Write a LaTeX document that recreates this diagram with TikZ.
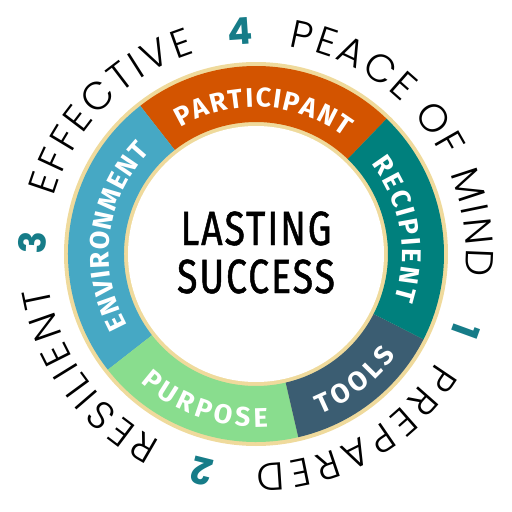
\documentclass[tikz,border=0pt]{standalone}
\usepackage{fontspec}
\usepackage{xcolor}
\usetikzlibrary{decorations.text}
\newfontfamily\outerfont{Poppins Light}
\newfontfamily\digitfont{Poppins Bold}
\newfontfamily\ringfont{Fira Sans Bold}
\newfontfamily\centerfont{Fira Sans}[FakeStretch=0.78, FakeBold=1, LetterSpace=4]
\definecolor{partorange}{HTML}{D35400}
\definecolor{envblue}{HTML}{46A8C4}
\definecolor{purpgreen}{HTML}{89DD8E}
\definecolor{toolslate}{HTML}{3B5D72}
\definecolor{recteal}{HTML}{00807D}
\definecolor{ringcream}{HTML}{EFDA9C}
\definecolor{digitteal}{HTML}{167C88}
\newcommand{\ringtxt}{\ringfont\fontsize{27pt}{27pt}\selectfont}
\newcommand{\outertxt}{\outerfont\fontsize{39pt}{39pt}\selectfont}
\tikzset{
  ringlabel/.style={
    decorate,
    decoration={text along path, text align={fit to path},
      text color=white, text={|\ringtxt|#1}}},
  outerword/.style={
    decorate,
    decoration={text along path, text align={fit to path},
      text color=black, text={|\outertxt|#1}}},
  digit/.style={anchor=base, inner sep=0pt, text=digitteal,
    font=\digitfont\fontsize{37pt}{37pt}\selectfont},
  centertext/.style={anchor=base, inner sep=0pt,
    font=\centerfont\fontsize{48pt}{48pt}\selectfont}
}

\begin{document}
\begin{tikzpicture}
    \useasboundingbox (-256pt,-258pt) rectangle (256pt,254pt);
    \fill[ringcream] (0,0) circle (192pt);
    \foreach \a/\b/\c in {46/128/partorange, 128/218/envblue,
      218/283/purpgreen, 283/333/toolslate, 333/406/recteal}
      \fill[\c] (\a:188pt) arc[start angle=\a, end angle=\b, radius=188pt]
        -- (\b:132pt) arc[start angle=\b, end angle=\a, radius=132pt] -- cycle;
    \fill[white] (0,0) circle (128pt);
    % labels in the ring
    \path[ringlabel=PARTICIPANT] (121:147pt) arc[start angle=121, end angle=53, radius=147pt];
    \path[ringlabel=RECIPIENT] (38:146pt) arc[start angle=38, end angle=-18, radius=146pt];
    \path[ringlabel=ENVIRONMENT] (209:147pt) arc[start angle=209, end angle=136, radius=147pt];
    \path[ringlabel=PURPOSE] (228:173pt) arc[start angle=228, end angle=274, radius=173pt];
    \path[ringlabel=TOOLS] (292:173pt) arc[start angle=292, end angle=324, radius=173pt];
    \node[centertext] (lasting) at (0,9pt) {LASTING};
    \node[centertext] (success) at (0,-39pt) {SUCCESS};
    % outer words and numbers
    \path[outerword=EFFECTIVE] (164:210pt) arc[start angle=164, end angle=107, radius=210pt];
    \path[outerword={PEACE OF MIND}] (81:210pt) arc[start angle=81, end angle=-6, radius=210pt];
    \path[outerword=PREPARED] (-31:210pt) arc[start angle=-31, end angle=-90, radius=210pt];
    \path[outerword=RESILIENT] (243:210pt) arc[start angle=243, end angle=189, radius=210pt];
    \node[digit, rotate=4] (four) at (94:210pt) {4};
    \node[digit, rotate=-110] (one) at (-20:210pt) {1};
    \node[digit, rotate=-194] (two) at (-104:210pt) {2};
    \node[digit, rotate=87] (three) at (177:210pt) {3};
\end{tikzpicture}
\end{document}
